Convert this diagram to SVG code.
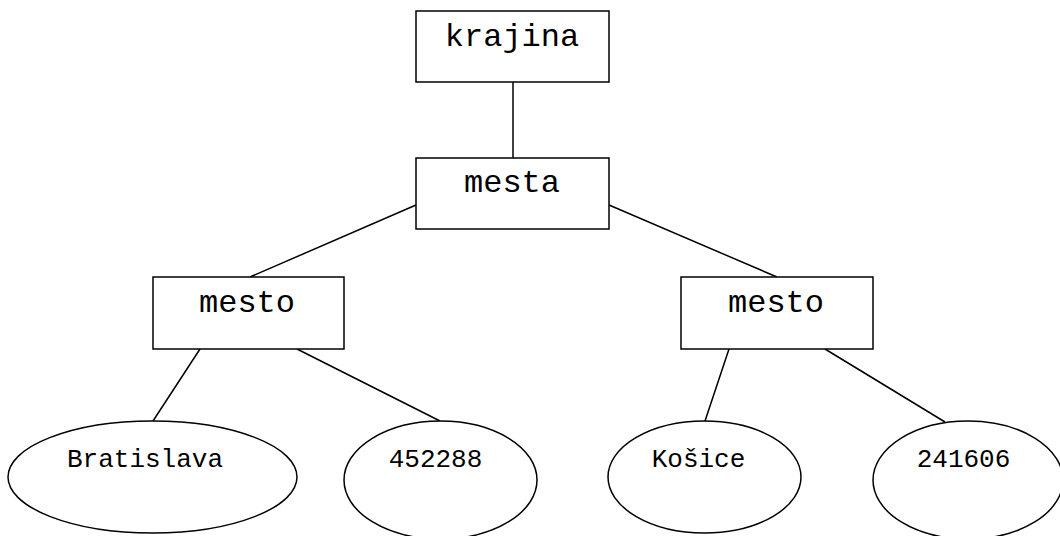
<svg xmlns="http://www.w3.org/2000/svg" width="1060" height="536" viewBox="0 0 1060 536">
  <style>
    .box { fill: #fff; stroke: #000; stroke-width: 1.5; }
    .oval { fill: #fff; stroke: #000; stroke-width: 1.5; }
    .edge { stroke: #000; stroke-width: 1.5; fill: none; }
    .lbl { font-family: "Liberation Mono", "Courier New", monospace; font-size: 32px; fill: #000; text-anchor: middle; }
    .val { font-family: "Liberation Mono", "Courier New", monospace; font-size: 26px; fill: #000; text-anchor: middle; }
  </style>
  <rect width="1060" height="536" fill="#fff"/>

  <!-- connectors -->
  <g id="edges">
    <line class="edge" x1="513" y1="82" x2="513" y2="158"/>
    <line class="edge" x1="416" y1="205" x2="250" y2="277"/>
    <line class="edge" x1="609" y1="205" x2="777" y2="277"/>
    <line class="edge" x1="200" y1="349" x2="153" y2="421"/>
    <line class="edge" x1="297" y1="349" x2="440" y2="421"/>
    <line class="edge" x1="729" y1="349" x2="705" y2="421"/>
    <line class="edge" x1="825" y1="349" x2="945" y2="422"/>
  </g>

  <g id="krajina">
    <rect class="box" x="416" y="11" width="193" height="71"/>
    <text class="lbl" x="512" y="46">krajina</text>
  </g>

  <g id="mesta">
    <rect class="box" x="416" y="158" width="193" height="71"/>
    <text class="lbl" x="512" y="192">mesta</text>
  </g>

  <g id="mesto-1">
    <rect class="box" x="153" y="277" width="191" height="72"/>
    <text class="lbl" x="247" y="312">mesto</text>
  </g>

  <g id="mesto-2">
    <rect class="box" x="681" y="277" width="192" height="72"/>
    <text class="lbl" x="776" y="312">mesto</text>
  </g>

  <g id="bratislava">
    <ellipse class="oval" cx="152.5" cy="477" rx="144.5" ry="56"/>
    <text class="val" x="145" y="467">Bratislava</text>
  </g>

  <g id="pocet-1">
    <ellipse class="oval" cx="440.5" cy="480" rx="96.5" ry="59"/>
    <text class="val" x="435.5" y="467">452288</text>
  </g>

  <g id="kosice">
    <ellipse class="oval" cx="704.5" cy="477" rx="96.5" ry="56"/>
    <text class="val" x="698.5" y="467">Košice</text>
  </g>

  <g id="pocet-2">
    <ellipse class="oval" cx="968" cy="480" rx="95" ry="59"/>
    <text class="val" x="963.5" y="467">241606</text>
  </g>
</svg>
